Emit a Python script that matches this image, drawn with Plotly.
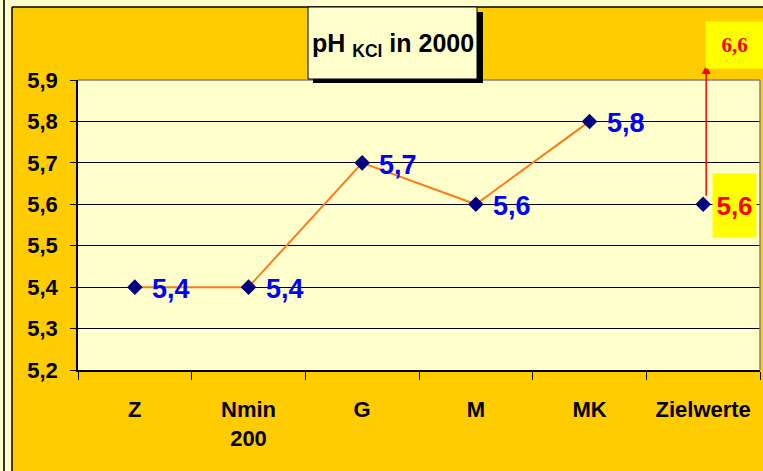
import plotly.graph_objects as go

# ---------------- data ----------------
categories = ["Z", "Nmin<br>200", "G", "M", "MK", "Zielwerte"]
measured_categories = ["Z", "Nmin<br>200", "G", "M", "MK"]
ph_values = [5.4, 5.4, 5.7, 5.6, 5.8]
ziel_category = "Zielwerte"
ziel_value = 5.6
ziel_target = 6.6
y_tickvals = [5.2, 5.3, 5.4, 5.5, 5.6, 5.7, 5.8, 5.9]
y_ticktext = ["5,2", "5,3", "5,4", "5,5", "5,6", "5,7", "5,8", "5,9"]
title_text = "pH <sub>KCl</sub> in 2000"


def fmt(v):
    return f"{v:.1f}".replace(".", ",")


# ---------------- layout geometry (pixels) ----------------
W, H = 763, 471
L, R, T, B = 78, 760, 80, 370


def px(x):
    return (x - L) / (R - L)


def py(y):
    return (B - y) / (B - T)


SANS = "Liberation Sans, Arial, sans-serif"
SERIF = "Liberation Serif, Times New Roman, serif"
LIGHT = "#FFFFCC"
ORANGE = "#FFCC00"

fig = go.Figure()

fig.add_trace(go.Scatter(
    x=measured_categories, y=ph_values, mode="lines+markers",
    line=dict(color="#FF7A1A", width=2),
    marker=dict(symbol="diamond", size=12, color="#000080"),
    showlegend=False, hoverinfo="skip", cliponaxis=False,
))
fig.add_trace(go.Scatter(
    x=[ziel_category], y=[ziel_value], mode="markers",
    marker=dict(symbol="diamond", size=12, color="#000080"),
    showlegend=False, hoverinfo="skip", cliponaxis=False,
))

shapes = [
    # outer light frame
    dict(type="rect", xref="paper", yref="paper", x0=px(0), x1=px(12), y0=py(H), y1=py(0),
         fillcolor=LIGHT, line=dict(width=0), layer="above"),
    dict(type="rect", xref="paper", yref="paper", x0=px(0), x1=px(W), y0=py(7), y1=py(0),
         fillcolor=LIGHT, line=dict(width=0), layer="above"),
    dict(type="line", xref="paper", yref="paper", x0=px(4), x1=px(4), y0=py(0), y1=py(H),
         line=dict(color="#333333", width=2)),
    dict(type="line", xref="paper", yref="paper", x0=px(12), x1=px(12), y0=py(7), y1=py(H),
         line=dict(color="black", width=1.5)),
    dict(type="line", xref="paper", yref="paper", x0=px(12), x1=px(W), y0=py(7), y1=py(7),
         line=dict(color="black", width=1.5)),
    # plot-area top/right border
    dict(type="line", xref="paper", yref="paper", x0=0, x1=1, y0=1, y1=1,
         line=dict(color="#808080", width=1.5)),
    dict(type="line", xref="paper", yref="paper", x0=1, x1=1, y0=0, y1=1,
         line=dict(color="#808080", width=1.5)),
    # title box shadow + box
    dict(type="rect", xref="paper", yref="paper", x0=px(313), x1=px(483), y0=py(83), y1=py(12),
         fillcolor="black", line=dict(width=0)),
    dict(type="rect", xref="paper", yref="paper", x0=px(308), x1=px(477), y0=py(79), y1=py(7),
         fillcolor=LIGHT, line=dict(color="black", width=1)),
]

annotations = [
    dict(xref="paper", yref="paper", x=px(392.5), y=py(45), text=title_text, showarrow=False,
         xanchor="center", yanchor="middle",
         font=dict(family=SANS, size=25, color="black", weight="bold")),
]

for c, v in zip(measured_categories, ph_values):
    annotations.append(dict(
        x=c, y=v, text=fmt(v), showarrow=False, xanchor="left", yanchor="middle",
        xshift=15, yshift=-2,
        font=dict(family=SANS, size=27, color="#0000FF", weight="bold"),
    ))

# target arrow
annotations.append(dict(
    x=ziel_category, y=5.936, ax=ziel_category, ay=5.617, axref="x", ayref="y",
    text="", showarrow=True, arrowhead=2, arrowsize=1.2, arrowwidth=1.5, arrowcolor="#FF0000",
    xshift=3,
))
# current value at Zielwerte
annotations.append(dict(
    x=ziel_category, y=ziel_value, text=fmt(ziel_value), showarrow=False,
    xanchor="left", yanchor="middle", xshift=9, yshift=-1,
    width=43, height=63, borderpad=0, bgcolor="#FFFF00",
    font=dict(family=SANS, size=26, color="#FF0000", weight="bold"),
))
# target value box
annotations.append(dict(
    xref="paper", yref="paper", x=px(734.5), y=py(45), text=fmt(ziel_target), showarrow=False,
    xanchor="center", yanchor="middle", width=57, height=46, borderpad=0, bgcolor="#FFFF00",
    font=dict(family=SERIF, size=21, color="#FF0000", weight="bold"),
))

fig.update_layout(
    width=W, height=H,
    margin=dict(l=L, r=W - R, t=T, b=H - B, pad=0),
    paper_bgcolor=ORANGE, plot_bgcolor=LIGHT,
    shapes=shapes, annotations=annotations,
    showlegend=False,
    xaxis=dict(
        type="category", categoryorder="array", categoryarray=categories,
        range=[-0.5, 5.5], tickson="boundaries", ticks="outside", ticklen=8,
        tickcolor="black", tickwidth=1, showline=True, linecolor="black", linewidth=1.5,
        showgrid=False, ticklabelstandoff=19,
        tickfont=dict(family=SANS, size=22, color="black", weight="bold"),
        fixedrange=True,
    ),
    yaxis=dict(
        range=[5.2, 5.9], tickvals=y_tickvals, ticktext=y_ticktext,
        ticks="outside", ticklen=6, tickcolor="black", showline=True, linecolor="black",
        linewidth=1.5, showgrid=True, gridcolor="black", gridwidth=1, zeroline=False,
        ticklabelstandoff=8,
        tickfont=dict(family=SANS, size=22, color="black", weight="bold"),
        fixedrange=True,
    ),
)

fig.write_html(
    "out.html",
    config={"displayModeBar": False},
    post_script="document.body.style.margin='0';document.body.style.overflow='hidden';",
)
